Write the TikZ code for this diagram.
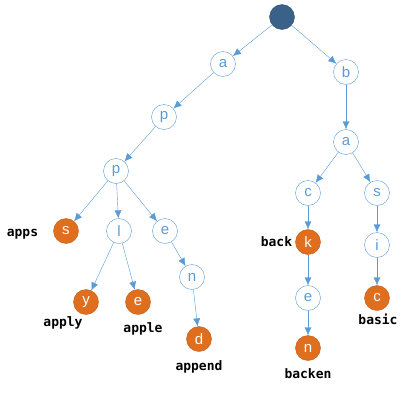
\documentclass[tikz,border=0pt]{standalone}
\usepackage{fontspec}
\newfontfamily\letterfont{Liberation Sans}
\newfontfamily\wordfont{DejaVu Sans Mono}
\usepackage{tikz}
\usetikzlibrary{arrows.meta, positioning}
\usepackage{xcolor}
\definecolor{lineblue}{HTML}{5B9BD5}
\definecolor{leaforange}{HTML}{DF6E1E}
\definecolor{rootblue}{HTML}{3A6188}

\begin{document}
\begin{tikzpicture}[x=1pt,y=-1pt,>={Latex[length=8pt,width=7pt]}]
    \tikzstyle{state}=[shape=circle,draw=lineblue,fill=white,minimum size=25pt,inner sep=0pt,text=lineblue,font=\letterfont\fontsize{15}{15}\selectfont]
    \tikzstyle{leaf}=[state,draw=leaforange!85!black,fill=leaforange,text=white]
    \tikzstyle{root}=[state,draw=rootblue!85!black,fill=rootblue]
    \tikzstyle{word}=[inner sep=0pt,font=\wordfont\bfseries\fontsize{13}{13}\selectfont]

    \useasboundingbox (0,0) rectangle (408,400);

    % left branch: a-p-p
    \node[root] (R) at (282,17) {};
    \node[state] (A1) at (223,64) {a};
    \node[state] (P1) at (164,117) {p};
    \node[state] (P2) at (116,171) {p};
    \node[leaf] (S1) at (66,231) {s};
    \node[state] (L1) at (119,231) {l};
    \node[state] (E1) at (165,231) {e};
    \node[leaf] (Y1) at (86,302) {y};
    \node[leaf] (E2) at (138,302) {e};
    \node[state] (N1) at (192,277) {n};
    \node[leaf] (D1) at (199,339) {d};

    % right branch: b-a
    \node[state] (B2) at (346,72) {b};
    \node[state] (A2) at (346,142) {a};
    \node[state] (C2) at (308,193) {c};
    \node[state] (S2) at (377,193) {s};
    \node[leaf] (K2) at (308,242) {k};
    \node[state] (E3) at (308,298) {e};
    \node[leaf] (N2) at (308,348) {n};
    \node[state] (I2) at (377,245) {i};
    \node[leaf] (C3) at (377,298) {c};

    % words
    \node[word, left=15pt of S1, yshift=-3pt] (Wapps) {apps};
    \node[word, below=2pt of Y1, xshift=-23pt] (Wapply) {apply};
    \node[word, below=8pt of E2, xshift=5pt] (Wapple) {apple};
    \node[word, below=9pt of D1] (Wappend) {append};
    \node[word, below=8pt of N2] (Wbacken) {backen};
    \node[word, left=3pt of K2] (Wback) {back};
    \node[word, below=3pt of C3, xshift=1pt] (Wbasic) {basic};

    \path[->, draw, lineblue]
    (R) edge node {} (A1)
    (R) edge node {} (B2)
    (A1) edge node {} (P1)
    (P1) edge node {} (P2)
    (P2) edge node {} (S1)
    (P2) edge node {} (L1)
    (P2) edge node {} (E1)
    (L1) edge node {} (Y1)
    (L1) edge node {} (E2)
    (E1) edge node {} (N1)
    (N1) edge node {} (D1)
    (B2) edge node {} (A2)
    (A2) edge node {} (C2)
    (A2) edge node {} (S2)
    (C2) edge node {} (K2)
    (K2) edge node {} (E3)
    (E3) edge node {} (N2)
    (S2) edge node {} (I2)
    (I2) edge node {} (C3)
    ;

\end{tikzpicture}
\end{document}
